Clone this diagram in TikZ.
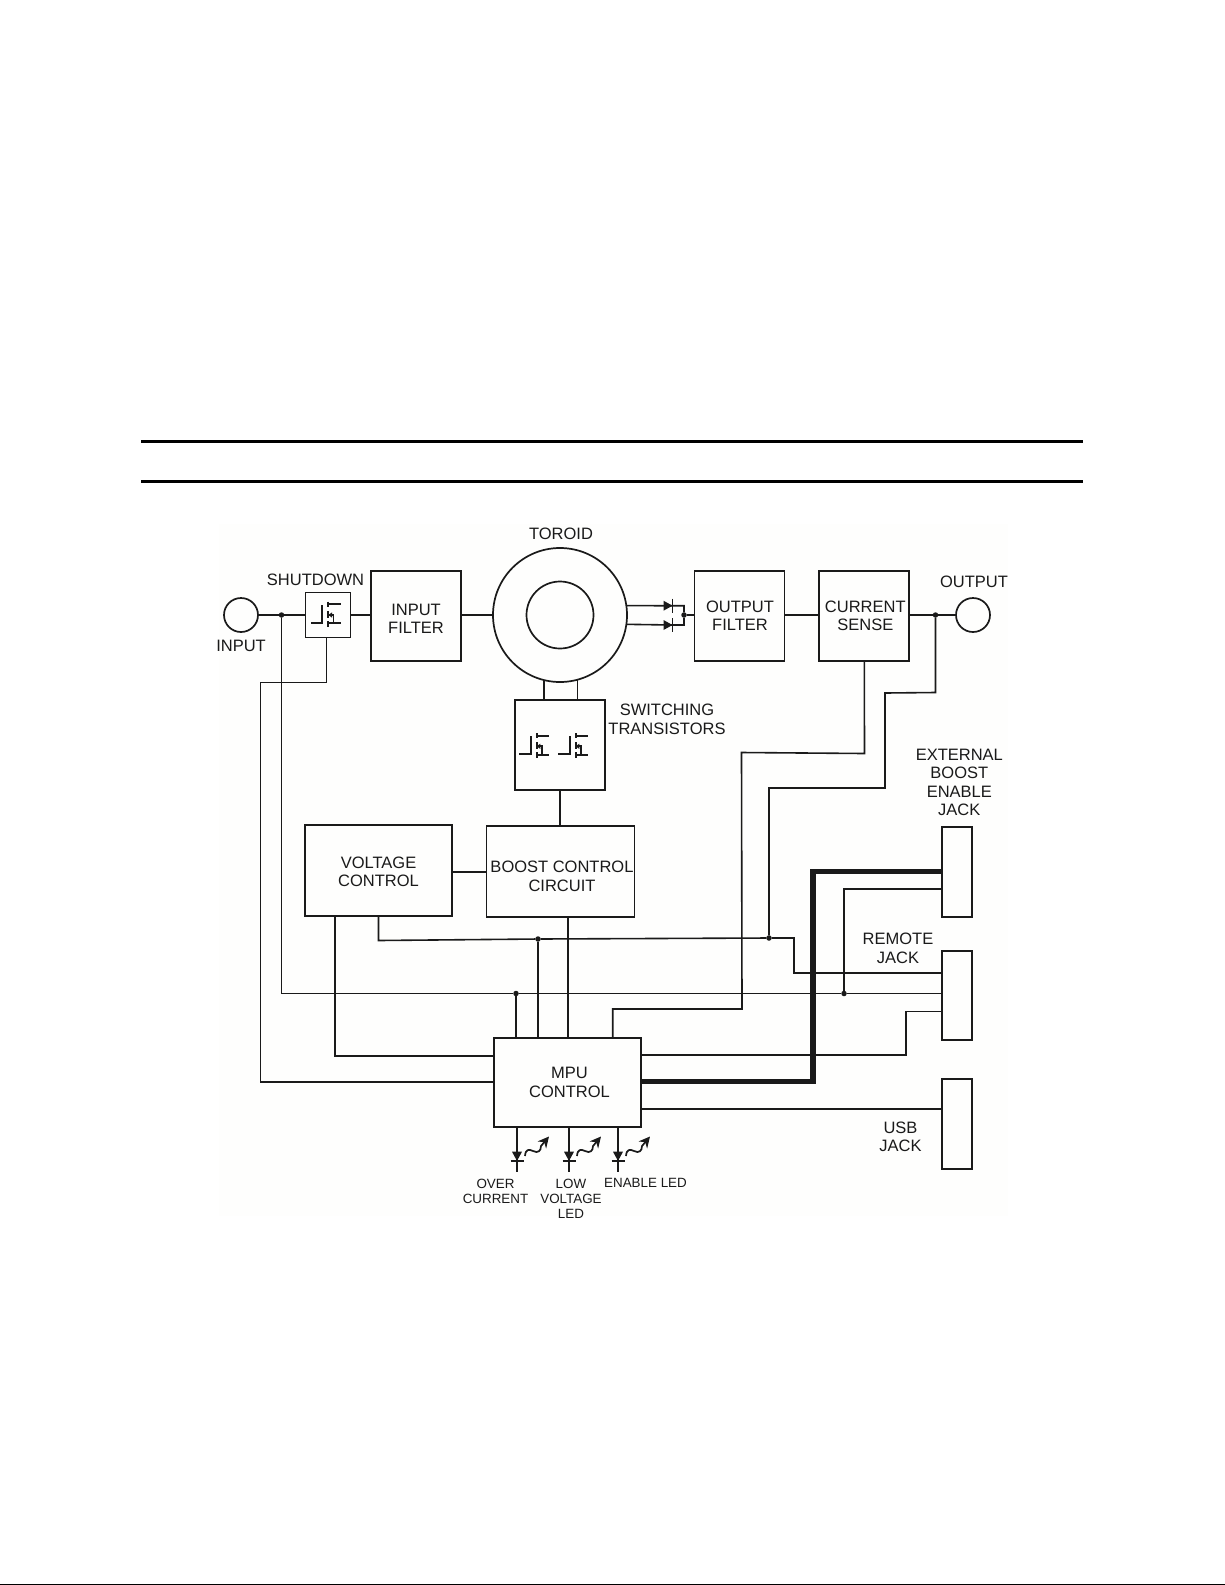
\documentclass[tikz,border=0pt]{standalone}
\usepackage{fontspec}
\setmainfont{Liberation Sans}
\usetikzlibrary{arrows.meta,calc}
\definecolor{ink}{HTML}{1A1A1A}
\definecolor{paperbg}{HTML}{FEFEFD}
\newcommand{\mainsize}{\fontsize{16.5}{18.4}\selectfont}
\newcommand{\smallsize}{\fontsize{13.4}{15}\selectfont}
\tikzset{
  wire/.style={draw=ink,line width=1.6pt},
  bus/.style={draw=ink,line width=5.5pt,line join=miter},
  rulebar/.style={draw=black,line width=3pt},
  blockbox/.style={draw=ink,line width=1.8pt,inner sep=0pt,outer sep=0pt,align=center,font=\mainsize,text=ink},
  port/.style={draw=ink,circle,line width=1.7pt,minimum size=34pt,inner sep=0pt,outer sep=0pt},
  ring/.style={draw=ink,circle,line width=1.7pt,inner sep=0pt,outer sep=0pt},
  lbl/.style={align=center,font=\mainsize,text=ink,inner sep=0pt},
  sml/.style={align=center,font=\smallsize,text=ink,inner sep=0pt},
  junction/.style={circle,fill=ink,draw=none,minimum size=5.5pt,inner sep=0pt,outer sep=0pt},
  mosfet/.pic={
    \draw[draw=ink,line width=1.9pt] (-17,7.7) -- (-5.7,7.7) -- (-5.7,-10);
    \draw[draw=ink,line width=2pt] (0.3,-13.3) -- (0.3,-8) (0.3,-4) -- (0.3,2.5) (0.3,6) -- (0.3,12);
    \draw[draw=ink,line width=1.9pt] (0.3,-10.7) -- (13,-10.7) (0.3,8.3) -- (13,8.3) (0.3,0) -- (5.5,0) -- (5.5,8.3);
    \fill[ink] (0.3,0) -- (4,-2.6) -- (4,2.6) -- cycle;
  },
  sidediode/.pic={
    \fill[ink] (-9,-5) -- (0,0) -- (-9,5) -- cycle;
    \draw[draw=ink,line width=1.7pt] (0,-7) -- (0,7);
  },
  ledmark/.pic={
    \fill[ink] (-5,-9.3) -- (5,-9.3) -- (0,0) -- cycle;
    \draw[draw=ink,line width=1.7pt] (-6.5,0) -- (6.5,0);
    \draw[draw=ink,line width=1.7pt,-{Stealth[length=11pt,width=11pt]}]
      (8,-5) .. controls (8.5,-12) and (12,-12) .. (16,-10)
             .. controls (21,-7.5) and (24,-10) .. (24,-15)
             -- (32,-24.5);
  },
}
\begin{document}
\begin{tikzpicture}[x=1pt,y=-1pt]
\useasboundingbox (0,0) rectangle (1225,1585);
\fill[paperbg] (219,524) rectangle (1008,1216);
\draw[rulebar] (141,441) -- (1083,441);
\draw[rulebar] (141,481) -- (1083,481);
\draw[draw=black,line width=1.4pt] (0,1584.3) -- (1225,1584.3);

% blocks
\node[port] (inp) at (241,615) {};
\node[blockbox,minimum width=45pt,minimum height=45pt] (shut) at (328,615) {};
\node[blockbox,minimum width=90pt,minimum height=90pt,label={[lbl,name=ifilt-t,yshift=-3pt]center:{INPUT\\FILTER}}] (ifilt) at (416,616) {};
\node[ring,minimum size=134pt] (toroid) at (560,615) {};
\node[ring,minimum size=67pt] (core) at (560,615) {};
\node[blockbox,minimum width=90pt,minimum height=90pt] (sw) at (560,745.3) {};
\node[blockbox,minimum width=90pt,minimum height=90pt,label={[lbl,name=ofilt-t,xshift=0.5pt]center:{OUTPUT\\FILTER}}] (ofilt) at (739.5,616) {};
\node[blockbox,minimum width=90pt,minimum height=90pt,label={[lbl,name=csense-t,xshift=1pt]center:{CURRENT\\SENSE}}] (csense) at (864.3,616) {};
\node[port] (outp) at (973,615) {};
\node[blockbox,minimum width=147pt,minimum height=91pt,label={[lbl,name=volt-t,yshift=-1.5pt]center:{VOLTAGE\\CONTROL}}] (volt) at (378.5,870.5) {};
\node[blockbox,minimum width=148pt,minimum height=91pt,label={[lbl,name=boost-t,xshift=1.5pt,yshift=-5pt]center:{BOOST CONTROL\\CIRCUIT}}] (boost) at (560.5,871.5) {};
\node[blockbox,minimum width=147pt,minimum height=89pt,label={[lbl,name=mpu-t,xshift=2pt]center:{MPU\\CONTROL}}] (mpu) at (567.5,1082.2) {};
\node[blockbox,minimum width=30pt,minimum height=90pt] (extj) at (956.6,871.6) {};
\node[blockbox,minimum width=30pt,minimum height=89pt] (remj) at (956.6,995.5) {};
\node[blockbox,minimum width=30pt,minimum height=90pt] (usbj) at (956.6,1123.6) {};

% labels
\node[lbl] (tshut) at (315.5,580) {SHUTDOWN};
\node[lbl] (tinp) at (241,645.5) {INPUT};
\node[lbl] (ttor) at (561,534) {TOROID};
\node[lbl] (tsw) at (667,719.5) {SWITCHING\\TRANSISTORS};
\node[lbl] (toutp) at (974,582) {OUTPUT};
\node[lbl] (text) at (959.3,782.5) {EXTERNAL\\BOOST\\ENABLE\\JACK};
\node[lbl] (trem) at (898,948.5) {REMOTE\\JACK};
\node[lbl] (tusb) at (900.5,1137) {USB\\JACK};
\node[sml] (tled1) at (495.5,1191) {OVER\\CURRENT};
\node[sml] (tled2) at (571,1198.5) {LOW\\VOLTAGE\\LED};
\node[sml] (tled3) at (645.5,1183) {ENABLE LED};

% transistors and diodes
\pic at (328,615) {mosfet};
\pic at (536.3,746.3) {mosfet};
\pic at (575.3,746.3) {mosfet};
\coordinate (dtop) at (672.5,605.7);
\coordinate (dbot) at (672.5,625);
\pic at (dtop) {sidediode};
\pic at (dbot) {sidediode};

% junctions
\node[junction] (jin) at (281.5,615) {};
\node[junction] (jdiode) at (684,615) {};
\node[junction] (jout) at (935.5,615) {};
\node[junction] (jfb) at (769,938) {};
\node[junction] (jboost) at (538,939) {};
\node[junction] (jmain) at (516,993.5) {};
\node[junction] (jrem) at (844,993.5) {};

% top row
\draw[wire] (inp.east) -- (jin) -- (shut.west);
\draw[wire] (shut.east) -- (shut.east -| ifilt.west);
\draw[wire] (ifilt.east |- toroid.west) -- (toroid.west);
\draw[wire] (toroid.8) -- (dtop) -- (dtop -| jdiode) -- (jdiode);
\draw[wire] (toroid.-8) -- (dbot) -- (dbot -| jdiode) -- (jdiode);
\draw[wire] (jdiode) -- (jdiode -| ofilt.west);
\draw[wire] (ofilt.east |- jdiode) -- (csense.west |- jdiode);
\draw[wire] (csense.east |- jout) -- (jout) -- (outp.west);
\draw[wire] (toroid.256) -- (toroid.256 |- sw.north);
\draw[wire] (toroid.285) -- (toroid.285 |- sw.north);
\draw[wire] (sw.south) -- (sw.south |- boost.north);
\draw[wire] (volt.east |- 0,872) -- (boost.west |- 0,872);

% long runs
\draw[wire] (jin) -- (jin |- jmain) -- (jmain) -- (jrem) -- (jrem -| remj.west);
\draw[wire] (326.5,0 |- shut.south) -- (326.5,682.5) -- (260.5,682.5) -- (260.5,1081.7) -- (mpu.west |- 0,1081.7);
\draw[wire] (volt.south -| 335,0) -- (335,1055.7) -- (mpu.west |- 0,1055.7);
\draw[wire] (volt.south) -- (378.5,940.5) -- (jboost) -- (jfb) -- (794,938) -- (794,973) -- (remj.west |- 0,973);
\draw[wire] (jboost) -- (jboost |- mpu.north);
\draw[wire] (jmain) -- (jmain |- mpu.north);
\draw[wire] (boost.south -| 567.7,0) -- (567.7,0 |- mpu.north);
\draw[wire] (csense.south) -- (864.5,753.5) -- (741.5,752.5) -- (742,1009) -- (612.7,1009) -- (612.7,0 |- mpu.north);
\draw[wire] (jout) -- (935.5,692.5) -- (885,693) -- (885,788) -- (769,788) -- (jfb);
\draw[bus] (extj.west) -- (813,871.6) -- (813,1081.7) -- (mpu.east |- 0,1081.7);
\draw[wire] (extj.west |- 0,889) -- (844,889) -- (jrem);
\draw[wire] (remj.west |- 0,1011.5) -- (906,1011.5) -- (906,1055) -- (mpu.east |- 0,1055);
\draw[wire] (mpu.east |- 0,1109) -- (usbj.west |- 0,1109);

% status LEDs
\coordinate (leda) at (517,1171.7);
\coordinate (ledb) at (569,1171.7);
\coordinate (ledc) at (618,1171.7);
\draw[wire] (mpu.south -| leda) -- (leda);
\draw[wire] (mpu.south -| ledb) -- (ledb);
\draw[wire] (mpu.south -| ledc) -- (ledc);
\pic at (517,1161) {ledmark};
\pic at (569,1161) {ledmark};
\pic at (618,1161) {ledmark};
\end{tikzpicture}
\end{document}
